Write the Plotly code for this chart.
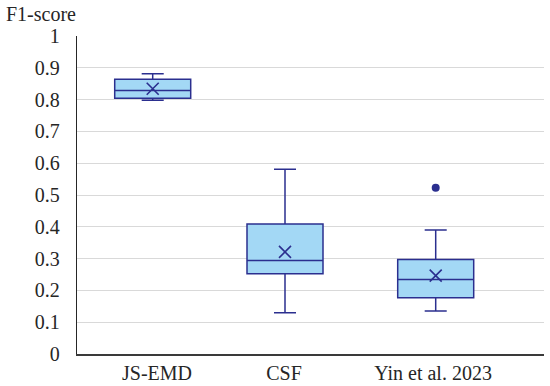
import plotly.graph_objects as go

categories = ["JS-EMD", "CSF", "Yin et al. 2023"]
lower_whisker = [0.798, 0.130, 0.135]
q1_values = [0.804, 0.2525, 0.177]
medians = [0.829, 0.294, 0.2345]
q3_values = [0.864, 0.4085, 0.297]
upper_whisker = [0.881, 0.581, 0.390]
means = [0.834, 0.321, 0.2465]
outlier_category = ["Yin et al. 2023"]
outlier_values = [0.523]
y_ticks = [0, 0.1, 0.2, 0.3, 0.4, 0.5, 0.6, 0.7, 0.8, 0.9, 1]
y_tick_labels = ["0", "0.1", "0.2", "0.3", "0.4", "0.5", "0.6", "0.7", "0.8", "0.9", "1"]

# layout: horizontal positions of the category slots on a 0..467 axis
box_pos = [75.7, 208.0, 358.7]
label_pos = [80.0, 207.0, 356.0]
pos_of = dict(zip(categories, box_pos))

navy = "#2B2F8F"
fill = "#A3D8F5"
serif = "Liberation Serif"
txt = "#262626"

fig = go.Figure()
fig.add_trace(go.Box(
    x=box_pos,
    q1=q1_values, median=medians, q3=q3_values,
    lowerfence=lower_whisker, upperfence=upper_whisker,
    width=76, whiskerwidth=0.29,
    fillcolor=fill, line=dict(color=navy, width=1.5),
    boxpoints=False, showlegend=False, hoverinfo="skip",
))
fig.add_trace(go.Scatter(
    x=box_pos, y=means, mode="markers",
    marker=dict(symbol="x-thin", size=12, line=dict(color=navy, width=1.6)),
    showlegend=False, hoverinfo="skip",
))
fig.add_trace(go.Scatter(
    x=[pos_of[c] for c in outlier_category], y=outlier_values, mode="markers",
    marker=dict(symbol="circle", size=8, color=navy),
    showlegend=False, hoverinfo="skip",
))

fig.update_layout(
    width=550, height=386,
    margin=dict(l=77, r=6, t=36, b=32, autoexpand=False),
    paper_bgcolor="white", plot_bgcolor="white",
    font=dict(family=serif, size=20, color=txt),
)
fig.update_xaxes(
    range=[0, 467], tickmode="array", tickvals=label_pos, ticktext=categories,
    showgrid=False, zeroline=False, showline=True, linecolor="#3A3A3A", linewidth=2,
    ticks="", ticklabelstandoff=0, automargin=False,
    tickfont=dict(family=serif, size=20, color=txt),
)
fig.update_yaxes(
    range=[0, 1], tickmode="array", tickvals=y_ticks, ticktext=y_tick_labels,
    showgrid=True, gridcolor="#D9D9D9", gridwidth=1,
    zeroline=False, showline=True, linecolor="#262626", linewidth=1.3,
    ticks="", ticklabelstandoff=12, automargin=False,
    tickfont=dict(family=serif, size=20, color=txt),
)
fig.add_annotation(
    text="F1-score", xref="paper", yref="paper", x=-77/467, y=1 + 22.5/318,
    xanchor="left", yanchor="middle", showarrow=False,
    font=dict(family=serif, size=20, color=txt), xshift=4,
)

fig.write_html(
    "out.html",
    config={"displayModeBar": False, "staticPlot": True},
    post_script="document.body.style.margin='0';document.body.style.overflow='hidden';",
)
